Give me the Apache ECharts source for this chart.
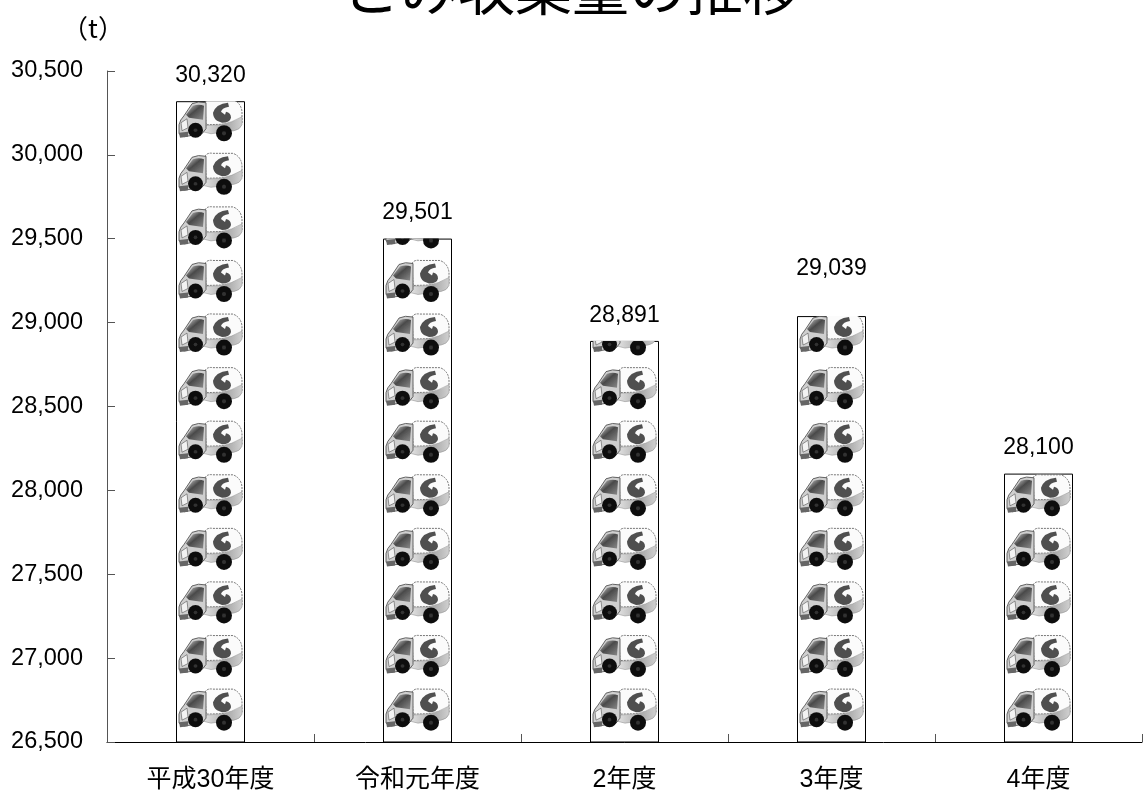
<!DOCTYPE html>
<html><head><meta charset="utf-8">
<style>html,body{margin:0;padding:0;background:#fff}#c{width:1144px;height:793px}</style>
<script src="https://cdn.jsdelivr.net/npm/echarts@6/dist/echarts.min.js"></script>
</head><body><div id="c"></div>
<script>
const titleText = 'ごみ収集量の推移';
const unitText = '（t）';
const categories = ['平成30年度','令和元年度','2年度','3年度','4年度'];
const amounts = [30320,29501,28891,29039,28100];
const axisMin = 26500, axisMax = 30500, axisStep = 500;

const truckSvg = `<svg xmlns="http://www.w3.org/2000/svg" width="207" height="162" viewBox="0 0 69 54">
<defs>
<linearGradient id="g" x1="0" y1="0" x2="1" y2="1"><stop offset="0" stop-color="#d8d8d8"/><stop offset=".45" stop-color="#4a4a4a"/><stop offset="1" stop-color="#8a8a8a"/></linearGradient>
<linearGradient id="h" x1="0" y1="0" x2="1" y2="0"><stop offset="0" stop-color="#e4e4e4"/><stop offset=".6" stop-color="#a8a8a8"/><stop offset="1" stop-color="#d0d0d0"/></linearGradient>
<filter id="b"><feGaussianBlur stdDeviation=".5"/></filter>
</defs>
<g filter="url(#b)">
<path d="M29 6 Q31 2 37 3 L57 3 Q65 6 66 15 L66 27 L30 28Z" fill="#fbfbfb" stroke="#777" stroke-width="1" stroke-dasharray="2 1"/>
<path d="M52 6 Q40 7 37 16 Q37 21 41 24 L46 26 Q54 26 55 21 Q55 16 50 15 L49 18 L45 15 Q46 11 53 10 Z" fill="#505050"/>
<path d="M28 29 L44 28 Q56 26 66 20 L66 28 Q64 33 58 34 L35 37 L27 35Z" fill="url(#h)" stroke="#888" stroke-width=".5"/>
<path d="M3 37 L3 28 Q4 23 8 19 L16 7 Q22 4 30 6 L30 32 L26 37 L8 40Z" fill="#cfcfcf" stroke="#444" stroke-width=".8"/>
<path d="M10 18 L17 9 Q23 7 28 9 L27 23 L13 21Z" fill="url(#g)"/>
<path d="M5 26 L11 22 L12 31 L6 34Z" fill="#f2f2f2" stroke="#666" stroke-width=".7"/>
<path d="M3 36 L12 35 L12 40 L4 41Z" fill="#666"/>
<circle cx="19.5" cy="33.5" r="7.5" fill="#111"/><circle cx="19.5" cy="33.5" r="1.8" fill="#333"/>
<circle cx="48" cy="36.5" r="8" fill="#111"/><circle cx="48" cy="36.5" r="2" fill="#333"/>
</g></svg>`;
const truckImage = 'image://data:image/svg+xml;charset=utf-8,' + encodeURIComponent(truckSvg);

const font = '"Liberation Sans","Noto Sans CJK JP",sans-serif';
const chart = echarts.init(document.getElementById('c'), null, {renderer:'canvas'});
chart.setOption({
  animation:false,
  backgroundColor:'#fff',
  title:{text:titleText,left:567,textAlign:'center',top:-45,
    textStyle:{fontFamily:'"Noto Sans CJK JP"',fontSize:57,fontWeight:'normal',color:'#000'}},
  grid:{left:107,right:2,top:71,bottom:48,containLabel:false},
  xAxis:{type:'category',data:categories,
    axisLine:{lineStyle:{color:'#000',width:1}},
    axisTick:{show:true,inside:true,length:8,alignWithLabel:false,lineStyle:{color:'#555'}},
    axisLabel:{margin:26,fontFamily:font,fontSize:25,color:'#000',interval:0},
    splitLine:{show:false}},
  yAxis:{type:'value',min:axisMin,max:axisMax,interval:axisStep,
    name:unitText,nameLocation:'end',nameGap:30,
    nameTextStyle:{fontFamily:'"Noto Sans CJK JP"',fontSize:26,color:'#000',align:'center',padding:[0,28,0,0]},
    axisLine:{show:true,lineStyle:{color:'#555',width:1}},
    axisTick:{show:true,inside:true,length:8,lineStyle:{color:'#555'}},
    axisLabel:{margin:24,fontFamily:font,fontSize:23.5,color:'#000',padding:[0,0,4,0],formatter:v=>v.toLocaleString('en-US')},
    splitLine:{show:false}},
  series:[
    {type:'bar',barWidth:69,barGap:'-100%',z:2,
     data:amounts.map((v,i)=>({value:v,label:{offset:[0,i===3?-22:0]}})),
     itemStyle:{color:'#fff',borderColor:'#000',borderWidth:1},
     label:{show:true,position:'top',distance:14,fontFamily:font,fontSize:23,color:'#000',
       formatter:p=>p.value.toLocaleString('en-US')}},
    {type:'pictorialBar',barWidth:69,barGap:'-100%',z:3,clip:true,
     data:amounts,symbol:truckImage,symbolSize:[69,54],symbolRepeat:true,symbolMargin:0,
     symbolPosition:'start',symbolClip:true,symbolBoundingData:30666,silent:true}
  ]
});
</script></body></html>
